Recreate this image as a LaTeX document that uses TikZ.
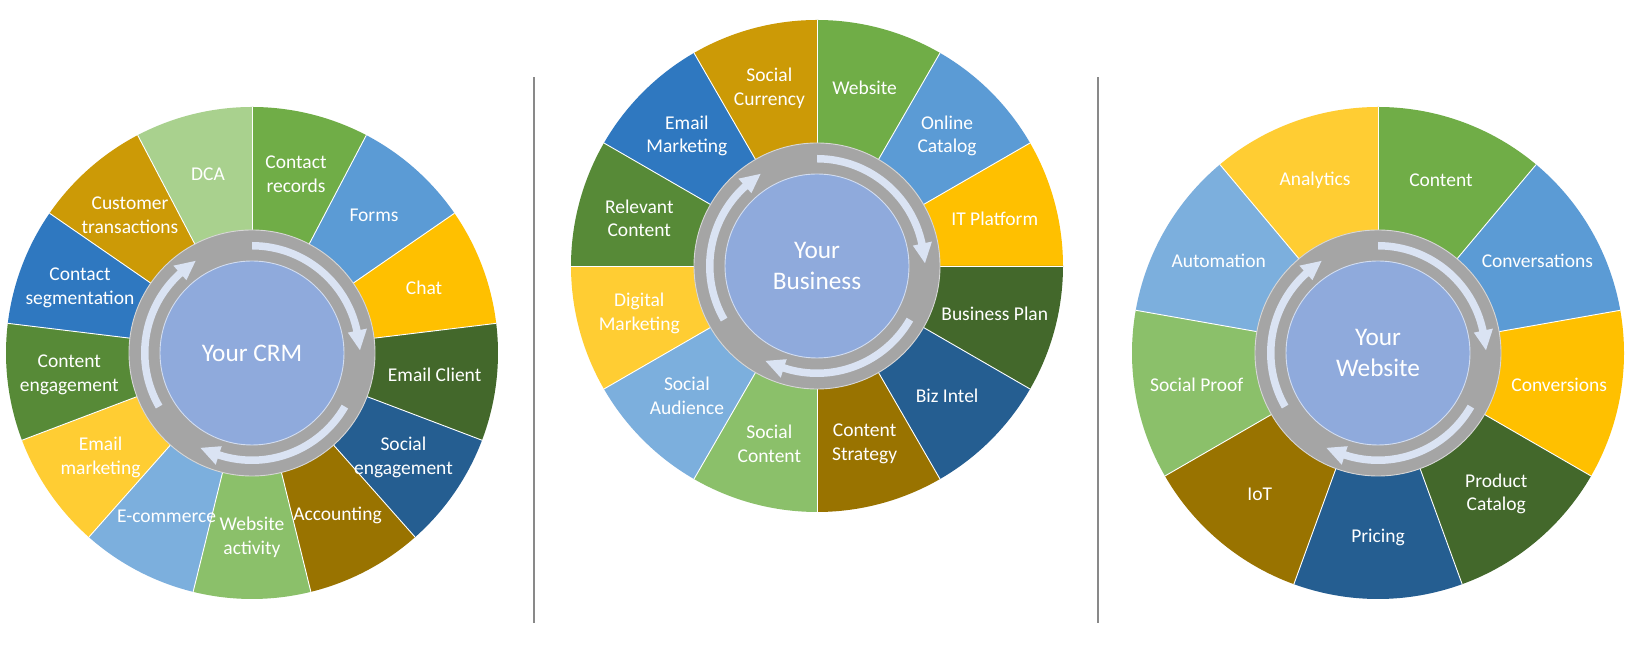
\documentclass[tikz,border=0pt]{standalone}
\usepackage{fontspec}
\setmainfont{Carlito}
\definecolor{cA}{HTML}{70AD47}
\definecolor{cB}{HTML}{5B9BD5}
\definecolor{cC}{HTML}{FFC000}
\definecolor{cD}{HTML}{43682B}
\definecolor{cE}{HTML}{255E91}
\definecolor{cF}{HTML}{997300}
\definecolor{cG}{HTML}{8BC06A}
\definecolor{cH}{HTML}{7CAFDD}
\definecolor{cI}{HTML}{FFCD33}
\definecolor{cJ}{HTML}{578A37}
\definecolor{cK}{HTML}{2F78C0}
\definecolor{cL}{HTML}{CC9A06}
\definecolor{cM}{HTML}{A9D18E}
\definecolor{ringc}{HTML}{A5A5A5}
\definecolor{hubc}{HTML}{8FAADC}
\definecolor{arrc}{HTML}{DAE3F3}
\definecolor{sepc}{HTML}{898989}
\tikzset{
  lbl/.style={text=white, font=\fontsize{19.5}{23.8}\selectfont, align=center, inner sep=0pt},
  ctext/.style={text=white, font=\fontsize{25.3}{31}\selectfont, align=center, inner sep=0pt},
  segline/.style={draw=white, line width=0.9pt},
  ringstyle/.style={fill=ringc, draw=white!55!ringc, line width=0.9pt},
  hubstyle/.style={fill=hubc, draw=white!60!hubc, line width=0.9pt},
  arrstyle/.style={fill=arrc},
  sepline/.style={draw=sepc, line width=2.8pt}
}
\newcommand\drawwheel[4]{%
  \begin{scope}[shift={#2}]
    \foreach \col/\lab [count=\k from 0] in {#4}{
      \pgfmathsetmacro\angA{90-\k*360/#3}
      \pgfmathsetmacro\angB{90-(\k+1)*360/#3}
      \fill[fill=\col] (0,0) -- (\angA:246) arc[start angle=\angA, end angle=\angB, radius=246] -- cycle;
    }
    \foreach \k in {1,...,#3}{
      \pgfmathsetmacro\angA{90-\k*360/#3}
      \draw[segline] (0,0) -- (\angA:246);
    }
    \filldraw[ringstyle] (0,0) circle[radius=123];
    \filldraw[hubstyle] (0,0) circle[radius=92];
    \foreach \r in {0,1,2}{
      \pgfmathsetmacro\arS{90-120*\r}
      \pgfmathsetmacro\arB{12-120*\r}
      \pgfmathsetmacro\arT{1.5-120*\r}
      \fill[arrstyle] (\arS:103.5) arc[start angle=\arS, end angle=\arB, radius=103.5]
        -- (\arB:98) -- (\arT:108) -- (\arB:117.5) -- (\arB:111)
        arc[start angle=\arB, end angle=\arS, radius=111] -- cycle;
    }
    \foreach \col/\lab [count=\k from 0] in {#4}{
      \pgfmathsetmacro\angM{90-(\k+0.5)*360/#3}
      \node[lbl] (#1s\k) at (\angM:184) {\lab};
    }
  \end{scope}%
}
\begin{document}
\begin{tikzpicture}[x=1pt,y=1pt]
  \useasboundingbox (0,0) rectangle (1631,660);
  \fill[white] (0,0) rectangle (1631,660);
  \drawwheel{w1}{(252,307)}{13}{cA/{Contact\\records}, cB/Forms, cC/Chat, cD/{Email Client}, cE/{Social\\engagement}, cF/Accounting, cG/{Website\\activity}, cH/E-commerce, cI/{Email\\marketing}, cJ/{Content\\engagement}, cK/{Contact\\segmentation}, cL/{Customer\\transactions}, cM/DCA}
  \node[ctext] (w1c) at (252,307) {Your CRM};
  \drawwheel{w2}{(817,394)}{12}{cA/Website, cB/{Online\\Catalog}, cC/{IT Platform}, cD/{Business Plan}, cE/{Biz Intel}, cF/{Content\\Strategy}, cG/{Social\\Content}, cH/{Social\\Audience}, cI/{Digital\\Marketing}, cJ/{Relevant\\Content}, cK/{Email\\Marketing}, cL/{Social\\Currency}}
  \node[ctext] (w2c) at (817,394) {Your\\Business};
  \drawwheel{w3}{(1378,307)}{9}{cA/Content, cB/Conversations, cC/Conversions, cD/{Product\\Catalog}, cE/Pricing, cF/IoT, cG/{Social Proof}, cH/Automation, cI/Analytics}
  \node[ctext] (w3c) at (1378,307) {Your\\Website};
  \draw[sepline] (534,37) -- (534,583);
  \draw[sepline] (1098,37) -- (1098,583);
\end{tikzpicture}
\end{document}
